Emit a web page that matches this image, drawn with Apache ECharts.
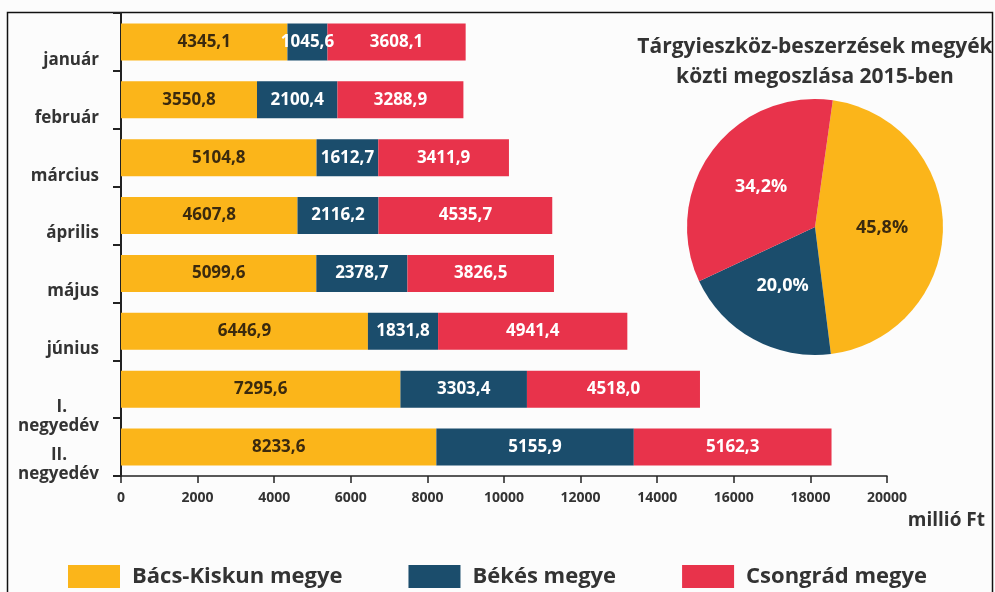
<!DOCTYPE html>
<html><head><meta charset="utf-8">
<script src="https://cdn.jsdelivr.net/npm/echarts@6/dist/echarts.min.js"></script>
<style>html,body{margin:0;padding:0;background:#fff}#c{width:995px;height:592px}</style>
</head><body><div id="c"></div>
<script>
const categories = ['január','február','március','április','május','június','I.\nnegyedév','II.\nnegyedév'];
const bacsKiskun = [4345.1,3550.8,5104.8,4607.8,5099.6,6446.9,7295.6,8233.6];
const bekes = [1045.6,2100.4,1612.7,2116.2,2378.7,1831.8,3303.4,5155.9];
const csongrad = [3608.1,3288.9,3411.9,4535.7,3826.5,4941.4,4518.0,5162.3];
const seriesNames = ['Bács-Kiskun megye','Békés megye','Csongrád megye'];
const pieShares = [45.8,20.0,34.2];
const xTicks = {min:0,max:20000,interval:2000};

const colors = ['#FBB51A','#1B4D6C','#E8334B'];
const FONT = '"Open Sans", sans-serif';
const fmt = v => v.toFixed(1).replace('.', ',');

const chart = echarts.init(document.getElementById('c'));
function barSeries(name, data, idx, labelColor){
  return {
    name, type:'bar', stack:'total', data, barWidth:37,
    itemStyle:{color:colors[idx]},
    label:{show:true, position:'inside', color:labelColor, fontFamily:FONT, fontWeight:700, fontSize:17,
      formatter:p=>fmt(p.value)}
  };
}
chart.setOption({
  backgroundColor:'#fcfcfc',
  animation:false,
  title:{text:'Tárgyieszköz-beszerzések megyék\nközti megoszlása 2015-ben', left:810, top:27, textAlign:'center',
    textStyle:{fontFamily:FONT, fontWeight:700, fontSize:21, color:'#333', lineHeight:30}},
  legend:{data:seriesNames, left:63, top:560, itemWidth:52, itemHeight:23, itemGap:66, icon:'rect',
    textStyle:{fontFamily:FONT, fontWeight:700, fontSize:22, color:'#333', padding:[0,0,0,7]}},
  grid:{left:121, right:108, top:13, bottom:116},
  xAxis:{type:'value', min:xTicks.min, max:xTicks.max, interval:xTicks.interval,
    axisLine:{show:true, lineStyle:{color:'#222', width:1.5}},
    axisTick:{show:true, length:7, lineStyle:{color:'#222', width:1.5}},
    splitLine:{show:false},
    axisLabel:{fontFamily:FONT, fontWeight:700, fontSize:14, color:'#333', margin:15, formatter:v=>String(v)}},
  yAxis:{type:'category', data:categories, inverse:true,
    axisLine:{show:true, lineStyle:{color:'#222', width:2}},
    axisTick:{show:true, length:8, lineStyle:{color:'#222', width:2}},
    axisLabel:{interval:0, hideOverlap:false, fontFamily:FONT, fontWeight:700, fontSize:17, color:'#333', margin:22,
      padding:[36,0,0,0], lineHeight:19,
      formatter:v=>{
        if(v.indexOf('\n')<0) return '{a|'+v+'}';
        const p=v.split('\n');
        const first='{a|'+p[0]+'}{b|\u00a0}\n{a|'+p[1]+'}';
        return p[0]==='I.' ? '{a|\u00a0}\n'+first : first;
      },
      rich:{a:{fontFamily:FONT, fontWeight:700, fontSize:17, color:'#333', lineHeight:19},
            b:{fontFamily:FONT, fontSize:17, lineHeight:19, width:32}}}},
  series:[
    barSeries(seriesNames[0], bacsKiskun, 0, '#3b2a0e'),
    barSeries(seriesNames[1], bekes, 1, '#ffffff'),
    barSeries(seriesNames[2], csongrad, 2, '#ffffff'),
    {type:'pie', center:[815,227], radius:128, startAngle:82, clockwise:true,
      label:{show:true, position:'inside', fontFamily:FONT, fontWeight:700, fontSize:18,
        formatter:p=>fmt(p.value)+'%'},
      labelLine:{show:false},
      data:pieShares.map((v,i)=>({name:seriesNames[i], value:v,
        itemStyle:{color:colors[i]}, label:{color:i===0?'#3b2a0e':'#ffffff'}}))}
  ],
  graphic:[
    {type:'rect', shape:{x:7.5,y:12.5,width:985,height:600}, style:{fill:'none', stroke:'#111', lineWidth:1.5}, silent:true},
    {type:'text', right:10, top:511, style:{text:'millió Ft', fontFamily:FONT, fontWeight:700, fontSize:19, fill:'#333'}}
  ]
});
</script></body></html>
